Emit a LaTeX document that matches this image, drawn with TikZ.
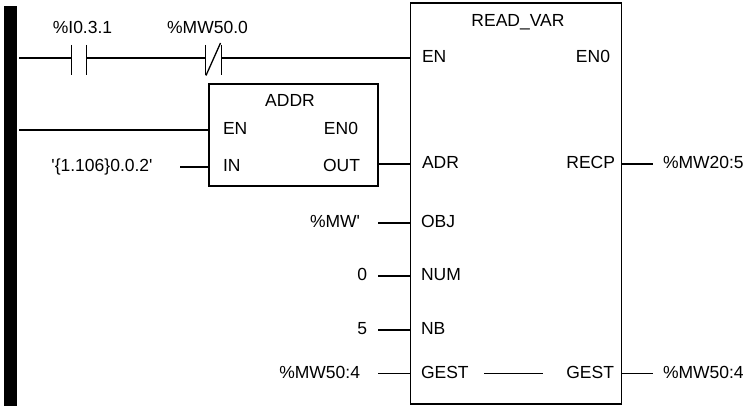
\documentclass[tikz,border=0pt]{standalone}
\usepackage{fontspec}
\setmainfont{Liberation Sans}
\begin{document}
\begin{tikzpicture}[x=1pt,y=-1pt,line width=1.3pt,
  lbl/.style={inner sep=0pt,outer sep=0pt,font=\fontsize{17.5}{21}\selectfont},
  fbox/.style={draw,line width=1.3pt,inner sep=0pt,outer sep=0pt},
  wire/.style={line width=1.3pt}]
\useasboundingbox (0,0) rectangle (748,406);
% power rail
\node[fill=black,inner sep=0pt,outer sep=0pt,minimum width=12.7pt,minimum height=400pt,anchor=north west] (rail) at (4,6) {};
% function blocks
\node[fbox,minimum width=211pt,minimum height=401pt] (rv) at (516,203.5) {};
\node[fbox,minimum width=169pt,minimum height=102pt] (addr) at (293.5,135) {};
% coordinates of the rung 1
\coordinate (r1) at (19,58);
\coordinate (c1a) at (71.7,58);
\coordinate (c1b) at (86.7,58);
\coordinate (c2a) at (205.5,58);
\coordinate (c2b) at (221.5,58);
\coordinate (rvEN) at (410.5,58);
% contacts
\draw[wire] (71.7,45) -- (71.7,75.5);
\draw[wire] (86.7,45) -- (86.7,75.5);
\draw[wire] (205.5,45) -- (205.5,75.5);
\draw[wire] (221.5,45) -- (221.5,75.5);
\draw[wire] (206,75.5) -- (220.5,43);
\draw[wire] (r1) -- (c1a);
\draw[wire] (c1b) -- (c2a);
\draw[wire] (c2b) -- (rvEN);
\node[lbl,anchor=base] (lI) at (82.5,33.5) {\%I0.3.1};
\node[lbl,anchor=base] (lM) at (207.5,33.5) {\%MW50.0};
% ADDR block
\coordinate (r2) at (19,130);
\coordinate (adEN) at (209,130);
\coordinate (inS) at (180,167);
\coordinate (adIN) at (209,167);
\coordinate (adOUT) at (378,164);
\coordinate (rvADR) at (410.5,164);
\draw[wire] (r2) -- (adEN);
\draw[wire] (inS) -- (adIN);
\draw[wire] (adOUT) -- (rvADR);
\node[lbl,anchor=base] (adT) at (290,107) {ADDR};
\node[lbl,anchor=base west] (adENl) at (223,135) {EN};
\node[lbl,anchor=base east] (adENO) at (358,135) {EN0};
\node[lbl,anchor=base west] (adINl) at (223,172) {IN};
\node[lbl,anchor=base east] (adOUTl) at (360,172) {OUT};
\node[lbl,anchor=base] (inV) at (102,172) {\textquotesingle\{1.106\}0.0.2\textquotesingle};
% READ_VAR block labels
\node[lbl,anchor=base] (rvT) at (518,27) {READ\_VAR};
\node[lbl,anchor=base west] (rvENl) at (422,63) {EN};
\node[lbl,anchor=base east] (rvENO) at (610,63) {EN0};
\node[lbl,anchor=base west] (rvADRl) at (422,168.5) {ADR};
\node[lbl,anchor=base east] (rvRECP) at (615,168.5) {RECP};
\node[lbl,anchor=base west] (rvOBJ) at (421,228) {OBJ};
\node[lbl,anchor=base west] (rvNUM) at (421,281) {NUM};
\node[lbl,anchor=base west] (rvNB) at (421,335) {NB};
\node[lbl,anchor=base west] (rvGi) at (421,378.5) {GEST};
\node[lbl,anchor=base east] (rvGo) at (614,378.5) {GEST};
% inputs of READ_VAR
\coordinate (oS) at (378,223);   \coordinate (oE) at (410.5,223);
\coordinate (nS) at (378,276);   \coordinate (nE) at (410.5,276);
\coordinate (bS) at (378,330);   \coordinate (bE) at (410.5,330);
\coordinate (gS) at (378,373.5); \coordinate (gE) at (410.5,373.5);
\draw[wire] (oS) -- (oE);
\draw[wire] (nS) -- (nE);
\draw[wire] (bS) -- (bE);
\draw[wire] (gS) -- (gE);
\node[lbl,anchor=base east] (vOBJ) at (360,228) {\%MW\textquotesingle};
\node[lbl,anchor=base east] (vNUM) at (367,281) {0};
\node[lbl,anchor=base east] (vNB) at (367,335) {5};
\node[lbl,anchor=base east] (vG) at (360,378.5) {\%MW50:4};
% internal GEST link
\coordinate (giA) at (484,373.5);
\coordinate (giB) at (543,373.5);
\draw[wire] (giA) -- (giB);
% outputs
\coordinate (rpA) at (621.5,164); \coordinate (rpB) at (653,164);
\coordinate (goA) at (621.5,373.5); \coordinate (goB) at (653,373.5);
\draw[wire] (rpA) -- (rpB);
\draw[wire] (goA) -- (goB);
\node[lbl,anchor=base west] (vR) at (663,168.5) {\%MW20:5};
\node[lbl,anchor=base west] (vGo) at (663,378.5) {\%MW50:4};
\end{tikzpicture}
\end{document}
